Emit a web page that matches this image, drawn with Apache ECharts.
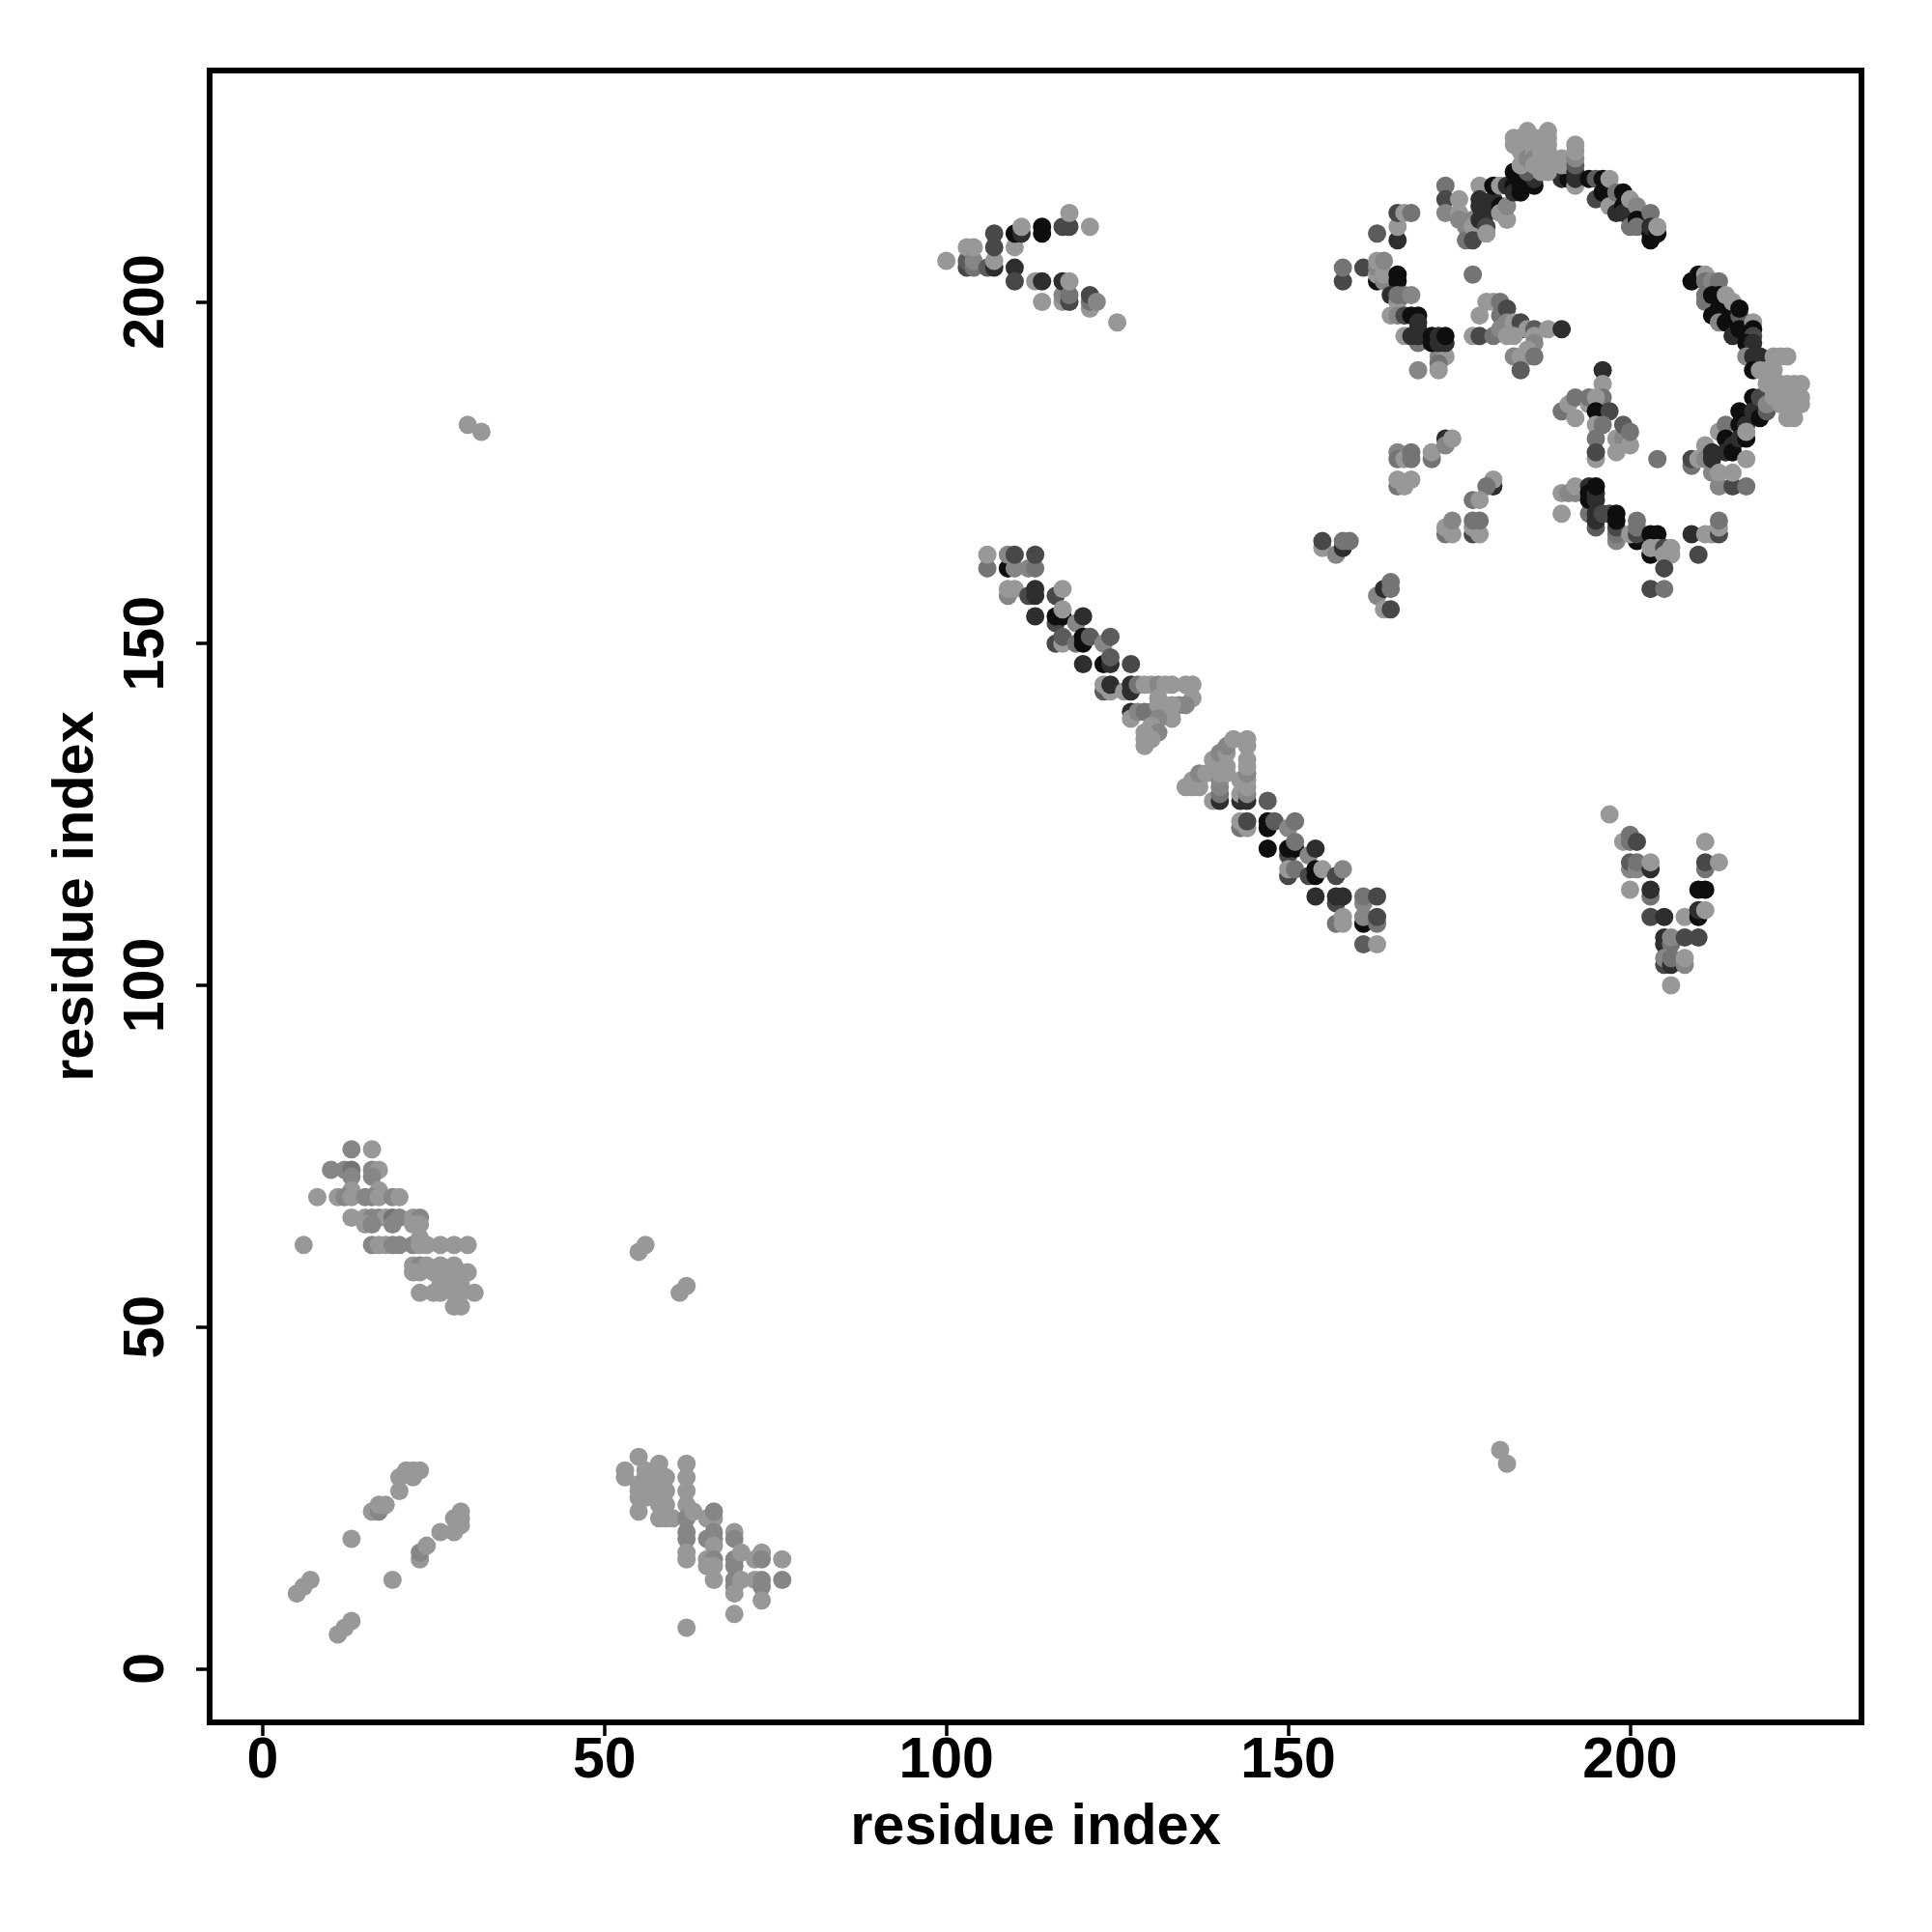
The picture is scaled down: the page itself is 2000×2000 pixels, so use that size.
<!DOCTYPE html>
<html><head><meta charset="utf-8">
<style>html,body{margin:0;padding:0;background:#fff}#c{width:2000px;height:2000px}</style>
<script src="https://cdn.jsdelivr.net/npm/echarts@6/dist/echarts.min.js"></script>
</head><body><div id="c"></div>
<script>
// gray levels of the points
const K=14,D=46,E=72,F=92,M=116,N=134,L=152,P=162;
const xTicks=[0,50,100,150,200];
const yTicks=[0,50,100,150,200];
const axisTitle='residue index';
// each point: [residue x, residue y, gray]
const isolated=[[30,182,L],[32,181,L],[55,61,L],[56,62,L],[61,55,L],[62,56,L],[181,32,L],[182,30,L]];
const clusterA=[[6,62,L],[8,69,L],[10,73,N],[12,73,N],[13,76,N],[16,76,L],[13,73,M],[16,73,N],[17,73,L],[13,72,N],[16,72,N],[13,70,L],[17,70,L],
[11,69,L],[12,69,N],[13,69,L],[15,69,N],[16,69,N],[17,69,L],[19,69,N],[20,69,L],
[13,66,L],[15,66,L],[16,66,N],[17,66,N],[18,66,L],[19,66,M],[20,66,N],[22,66,L],[23,66,N],[15,65,L],[16,65,N],[19,65,N],[22,65,L],[23,65,L],
[16,62,N],[17,62,L],[18,62,L],[19,62,N],[20,62,N],[22,62,N],[23,63,L],[23,62,L],[24,62,L],[26,62,L],[28,62,L],[30,62,L],
[22,59,L],[23,59,N],[24,59,L],[26,59,L],[28,59,L],[22,58,L],[23,58,L],[25,58,L],[26,58,L],[27,58,L],[28,58,L],[29,58,L],[30,58,L],
[26,57,L],[27,57,L],[28,57,L],[29,57,L],[26,56,L],[27,56,L],[28,56,L],[29,56,L],
[23,55,L],[25,55,L],[26,55,L],[28,55,L],[29,55,L],[31,55,L],[28,53,L],[29,53,L]];
const clusterB=[[5,11,L],[6,12,L],[7,13,L],[11,5,L],[12,6,L],[13,7,L],[13,19,L],[19,13,L],[16,23,L],[17,23,N],[17,24,L],[18,24,L],
[20,26,L],[20,28,L],[21,29,L],[22,28,L],[22,29,L],[23,29,L],[23,16,L],[23,17,N],[24,18,L],[26,20,L],[28,20,L],[28,22,L],[29,21,L],[29,22,L],[29,23,L]];
const clusterC=[[53,29,L],[53,28,L],[55,31,L],[55,27,L],[55,26,L],[55,25,L],[55,23,L],[56,29,L],[56,28,L],[56,27,L],[56,26,L],[56,25,L],
[58,30,L],[58,28,L],[58,27,L],[58,26,L],[59,28,L],[59,26,L],[58,24,L],[59,24,L],[58,22,L],[59,22,L],[60,22,L],
[62,30,L],[62,28,L],[62,26,L],[62,24,L],[62,22,N],[63,23,L],[62,20,N],[62,19,N],[62,17,L],[62,16,L],[62,6,L],
[65,22,L],[66,22,L],[66,23,N],[65,19,N],[66,20,N],[66,19,N],[66,18,L],[65,16,L],[66,16,N],[65,15,L],[66,15,L],[66,13,L],
[69,20,L],[69,19,N],[69,16,N],[69,15,N],[69,13,N],[69,12,N],[69,11,L],[69,8,L],[70,17,L],[70,13,L],
[72,16,L],[72,13,L],[73,17,L],[73,16,N],[73,13,N],[73,12,N],[73,10,L],[76,16,L],[76,13,N]];
const clusterD=[[100,206,L],[103,205,E],[103,206,F],[103,208,L],[104,205,M],[104,206,N],[104,208,L],[106,205,F],[107,205,D],[107,206,L],[107,208,E],[107,210,E],
[110,208,L],[110,210,K],[110,205,D],[110,203,E],[111,210,D],[111,211,L],[113,203,L],[114,203,D],[114,211,K],[114,210,K],[114,200,L],
[117,211,E],[118,211,E],[118,213,L],[121,211,L],[117,200,L],[117,201,N],[117,203,D],[118,200,E],[118,201,M],[118,203,L],[121,199,L],[121,200,M],[121,201,E],[122,200,N],[125,197,L]];
const clusterE=[[106,161,M],[106,163,L],[109,161,K],[110,161,N],[109,163,N],[110,163,E],[112,161,N],[113,161,M],[113,163,E],
[109,157,N],[109,158,L],[110,158,L],[112,157,E],[113,157,D],[113,158,D],[116,157,E],[117,158,L],
[113,154,D],[116,153,E],[116,154,K],[117,154,K],[117,155,L],[119,153,N],[120,154,D],
[116,150,E],[117,150,L],[117,151,F],[119,150,M],[120,150,K],[120,151,K],[121,151,F],[123,150,N],[124,151,F],
[120,147,D],[123,147,K],[124,147,D],[124,148,F],[127,147,E],
[123,143,F],[123,144,L],[124,143,L],[124,144,D],[126,143,L],[127,143,D],[127,144,D],[128,144,M],[129,144,L],[130,144,L],[131,144,N],[132,144,L],[133,144,L],[135,144,L],[136,144,L],[136,142,L],
[127,140,D],[127,139,L],[128,140,N],[129,140,M],[130,140,M],[131,142,L],[135,141,N],[134,141,N],[133,141,L],[132,141,L],[131,141,L],[132,140,L],[133,139,L],[131,139,N],[130,138,L],[131,137,N],[129,137,L],[129,136,L],[130,136,L],[129,135,L]];
const clusterF=[[135,129,L],[136,129,L],[137,129,L],[136,130,L],[137,131,N],[138,131,L],[139,133,L],[139,127,L],
[140,127,D],[140,128,M],[140,129,N],[140,130,N],[140,131,L],[140,132,L],[140,133,L],[140,134,N],[141,131,L],[141,132,L],[141,134,L],[141,135,N],[142,136,L],
[143,127,D],[143,128,L],[143,130,L],[144,127,D],[144,128,N],[144,129,L],[144,130,L],[144,131,N],[144,132,L],[144,133,L],[144,135,L],[144,136,L],
[143,123,M],[143,124,L],[144,123,L],[144,124,E],[147,127,F],[147,123,K],[147,124,K],[148,124,F],[150,123,N],[151,124,M],
[147,120,K],[150,119,E],[150,120,K],[151,120,K],[151,121,M],[153,119,N],[154,120,D],
[150,116,E],[150,117,L],[151,117,M],[153,116,E],[154,116,K],[154,117,K],[155,117,L],[157,116,E],[158,117,N],
[154,113,D],[157,112,E],[157,113,D],[158,113,D],[161,112,N],[161,113,M],[163,113,E],
[157,109,M],[158,109,L],[158,110,L],[161,109,K],[161,110,N],[163,109,M],[163,110,E],[161,106,F],[163,106,L]];
const clusterG=[[197,125,L],[199,121,L],[200,122,M],[200,121,M],[201,121,E],[200,117,N],[200,118,F],[201,117,N],[201,118,M],[203,117,D],[203,118,L],
[200,114,L],[203,113,M],[203,114,D],[203,110,E],[205,110,D],[208,110,L],[210,110,K],[210,111,D],[211,111,L],[210,114,K],[211,114,K],
[211,121,L],[211,117,M],[211,118,E],[213,118,L],
[205,107,D],[205,106,D],[206,106,M],[206,107,N],[208,107,E],[210,107,E],
[205,103,E],[205,104,N],[206,103,D],[206,104,M],[208,103,N],[208,104,L],[206,100,L]];
const clusterH=[[158,203,E],[158,205,M],[161,205,E],[163,203,K],[163,204,L],[163,205,N],[163,206,L],[164,203,N],[164,204,L],[164,206,N],[166,203,K],[166,204,K],
[163,210,F],[166,209,D],[166,211,L],[166,213,E],[167,213,L],[168,213,M],
[165,201,D],[166,200,L],[166,201,M],[167,201,M],[168,201,N],
[165,198,L],[166,198,N],[167,198,E],[168,198,K],[169,198,K],[169,197,D],[169,196,D],[169,194,M],[167,195,L],[168,195,D],[169,195,D],
[172,192,N],[173,192,L],[172,191,M],[172,190,L],[169,190,N],[171,194,K],[171,195,K],[172,194,D],[172,195,D],[173,194,D],[173,195,K]];
const clusterI=[[173,217,M],[173,215,E],[173,213,N],[175,215,L],[175,213,L],[175,212,N],[176,211,N],[176,209,M],[177,212,N],[177,211,L],[177,209,E],[177,204,M],
[178,217,L],[178,215,D],[178,214,D],[178,212,D],[179,213,D],[179,211,E],[179,210,L],[180,215,D],[180,214,D],[180,217,K],[181,217,L],[181,214,K],[181,213,L],[182,212,L],[182,214,N],[182,217,D],
[183,219,K],[183,217,K],[183,216,D],[184,216,K],[184,217,K],[186,217,K],[186,218,D],[185,219,F],[185,220,F],[184,220,L],
[190,218,D],[191,218,K],[183,224,L],[183,223,L],[184,224,L],[184,223,L],[184,222,L],[185,225,L],[185,224,L],[185,223,L],[185,222,L],[185,221,N],[186,224,L],[186,223,L],[186,222,L],[186,221,N],[186,220,L],[187,224,L],[187,223,L],[187,222,L],[187,221,L],[187,220,L],[187,219,L],
[188,225,L],[188,224,L],[188,223,L],[188,222,L],[188,221,L],[188,220,L],[188,219,L],[190,221,L],[190,220,L],[191,220,L],
[192,217,L],[192,218,D],[192,219,D],[192,220,F],[192,221,N],[192,222,L],[192,223,L]];
const clusterJ=[[194,218,K],[195,215,E],[195,218,F],[196,216,K],[196,218,K],[197,214,L],[197,218,L],[198,213,D],[198,216,M],[199,214,K],[199,213,D],[199,216,K],[200,215,L],[200,211,M],[201,214,N],[201,212,K],[201,211,M],[203,213,M],[203,209,K],[203,210,K],[203,211,D],[204,210,K],[204,211,L],
[209,203,K],[210,204,K],[211,201,M],[211,200,M],[211,204,L],[211,203,M],[212,203,N],[213,203,M],[212,198,K],[212,201,K],[213,201,K],[213,199,K],[213,197,N],[214,201,L],[214,197,K],[215,195,D],[215,199,K],[215,200,L],[216,198,F],[216,196,K],[216,199,K],[218,197,L],[218,196,K],[218,195,E],[217,194,K],[218,194,D]];
const clusterK=[[177,195,L],[178,195,E],[180,195,M],[178,198,L],[179,200,L],[180,200,L],[181,200,M],[181,198,M],[181,196,N],[182,199,E],[182,197,N],[182,195,L],
[184,196,K],[183,197,L],[184,197,E],[183,195,L],[185,196,L],[186,196,F],[188,196,L],[190,196,D],[186,195,L],[186,194,N],[185,193,L],[183,192,N],[184,192,L],[185,192,L],[186,192,M],[184,190,F]];
const clusterL=[[196,190,D],[196,188,L],[196,186,M],[190,184,M],[192,183,L],[191,185,L],[192,186,M],[194,185,L],[194,186,M],[195,186,L],[195,184,K],[197,184,E],[195,182,L],[196,182,M],[195,180,M],[195,177,L],[195,178,E],
[198,180,L],[199,180,N],[198,178,L],[200,179,L],[199,182,F],[200,181,M],[204,177,M]];
const clusterM=[[209,176,M],[209,177,E],[210,177,L],[211,179,L],[211,177,N],[212,175,N],[212,177,D],[212,178,D],[213,173,N],[213,175,L],[213,181,L],[214,182,M],[214,180,K],[214,178,D],[215,173,E],[215,175,L],[215,179,D],[215,178,K],
[216,184,K],[216,182,K],[216,180,D],[217,173,M],[217,182,D],[217,180,K],[217,181,L],[217,177,L],[218,186,K],[218,184,D],[219,183,K],[219,186,E],[220,184,F],[220,185,N],
[217,192,N],[218,192,D],[219,192,D],[218,190,K],[219,190,L],[221,192,L],[222,192,L],[223,192,L],[220,190,L],[221,190,L],
[220,188,L],[221,188,L],[222,188,L],[223,188,L],[224,188,L],[225,188,L],[221,187,L],[222,187,L],[223,187,L],[224,187,L],[221,186,L],[222,186,L],[223,186,L],[224,186,L],[225,186,L],[222,185,L],[223,185,L],[224,185,L],[225,185,L],[223,183,L],[224,183,L]];
const clusterN=[[190,169,L],[190,172,L],[191,172,N],[192,172,N],[192,173,L],[194,169,M],[194,173,D],[194,172,K],[194,171,K],[195,171,D],[195,172,D],[195,173,K],[195,167,F],[195,168,D],[195,169,D],[196,169,E],[197,169,E],
[198,165,N],[198,166,M],[198,167,E],[198,168,K],[198,169,K],[201,165,K],[200,166,L],[201,166,E],[201,167,M],[201,168,M],
[203,166,K],[204,166,K],[203,163,K],[203,164,L],[204,164,L],[205,164,E],[205,163,L],[206,163,L],[206,164,L],[205,161,E],[203,158,E],[205,158,M],
[209,166,D],[211,166,L],[212,166,L],[213,166,E],[213,167,L],[213,168,M],[210,163,E]];
const clusterO=[[155,164,L],[155,165,E],[157,163,N],[158,164,D],[158,165,M],[159,165,M],[163,157,N],[164,158,D],[165,159,M],[165,158,M],[164,155,L],[165,155,E],
[166,178,N],[166,177,M],[167,177,L],[168,178,M],[168,177,M],[171,177,M],[171,178,L],[166,173,M],[166,174,L],[167,173,L],[168,174,L],
[173,180,D],[173,179,N],[174,180,L],[180,173,D],[180,174,L],[179,173,M],[177,171,M],[178,171,L],
[173,166,M],[173,167,L],[174,166,L],[174,168,N],[177,166,E],[177,167,L],[178,166,L],[177,168,M],[178,168,M]];
const allPoints=[].concat(isolated,clusterA,clusterB,clusterC,clusterD,clusterE,clusterF,clusterG,clusterH,clusterI,clusterJ,clusterK,clusterL,clusterM,clusterN,clusterO);

const font='"Liberation Sans",Arial,sans-serif';
const labelStyle={fontFamily:font,fontWeight:'bold',fontSize:59,color:'#000'};
const chart=echarts.init(document.getElementById('c'),null,{renderer:'canvas'});
chart.setOption({
  animation:false,backgroundColor:'#fff',
  grid:{left:217,top:73,width:1710,height:1710,show:true,borderColor:'#000',borderWidth:6,backgroundColor:'transparent'},
  xAxis:{type:'value',min:-7.75,max:233.85,splitLine:{show:false},axisLine:{show:false,onZero:false},
    axisTick:{show:true,length:14,lineStyle:{color:'#000',width:3.5},customValues:xTicks},
    axisLabel:Object.assign({customValues:xTicks,margin:11},labelStyle),
    name:axisTitle,nameLocation:'middle',nameGap:80,nameTextStyle:{fontFamily:font,fontWeight:'bold',fontSize:59.5,color:'#000'}},
  yAxis:{type:'value',min:-7.85,max:233.85,splitLine:{show:false},axisLine:{show:false,onZero:false},
    axisTick:{show:true,length:14,lineStyle:{color:'#000',width:3.5},customValues:yTicks},
    axisLabel:Object.assign({customValues:yTicks,rotate:90,margin:35},labelStyle),
    name:axisTitle,nameLocation:'middle',nameGap:107,nameRotate:90,nameTextStyle:{fontFamily:font,fontWeight:'bold',fontSize:59.5,color:'#000'}},
  series:[{type:'scatter',symbol:'circle',symbolSize:19,large:false,z:1,
    data:allPoints.map(p=>({value:[p[0],p[1]],itemStyle:{color:'rgb('+p[2]+','+p[2]+','+p[2]+')',opacity:1}}))}]
});
</script></body></html>
